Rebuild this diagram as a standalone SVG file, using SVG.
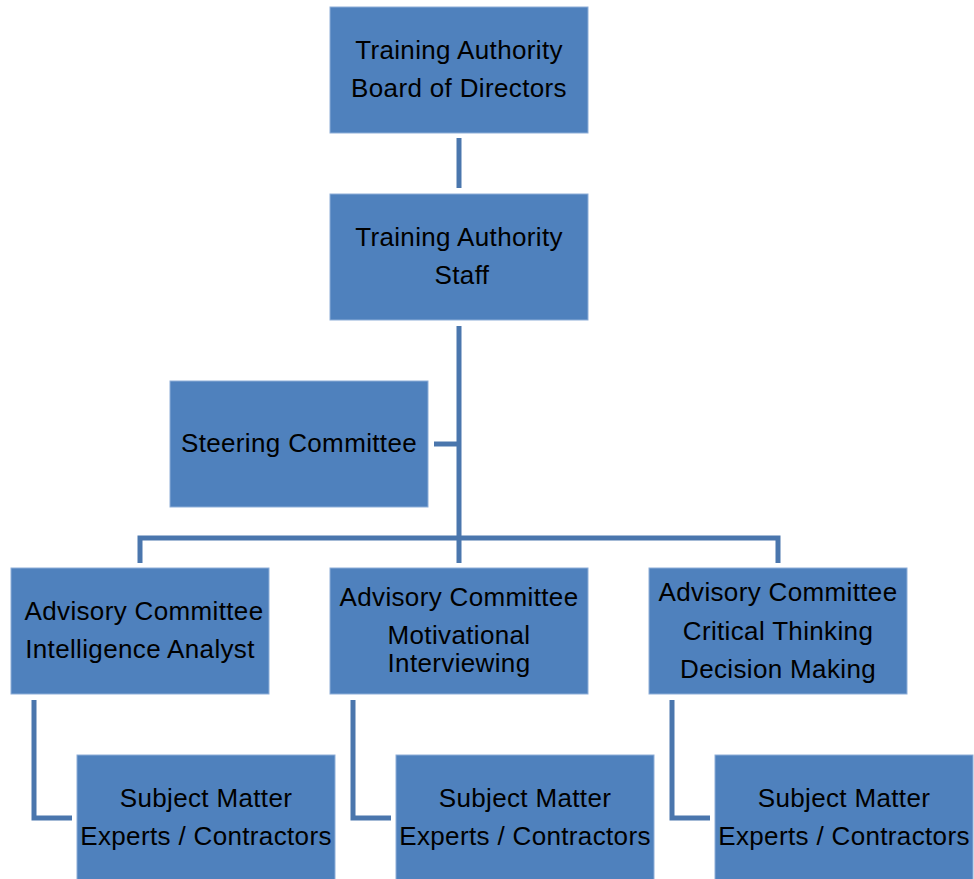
<svg xmlns="http://www.w3.org/2000/svg" width="974" height="879" viewBox="0 0 974 879">
<style>
.box{fill:#4F81BD;stroke:#8EAED8;stroke-width:1}
.t{font-family:"Liberation Sans",Arial,sans-serif;font-size:26px;letter-spacing:0.35px;fill:#000;text-anchor:middle}
.c{fill:none;stroke:#4A76AD;stroke-width:5}
</style>
<rect width="974" height="879" fill="#fff"/>
<g id="connectors">
<line class="c" x1="459" y1="138" x2="459" y2="188"/>
<line class="c" x1="459" y1="326" x2="459" y2="563"/>
<line class="c" x1="434" y1="444" x2="459" y2="444"/>
<polyline class="c" points="140,563 140,538 778,538 778,563"/>
<polyline class="c" points="34,700 34,818 72,818"/>
<polyline class="c" points="353,700 353,818 391,818"/>
<polyline class="c" points="672,700 672,818 710,818"/>
</g>
<g id="board"><rect class="box" x="330" y="7" width="258" height="126"/><text class="t" x="459" y="59">Training Authority</text><text class="t" x="459" y="97">Board of Directors</text></g>
<g id="staff"><rect class="box" x="330" y="194" width="258" height="126"/><text class="t" x="459" y="246">Training Authority</text><text class="t" x="462" y="284">Staff</text></g>
<g id="steering"><rect class="box" x="170" y="381" width="258" height="126"/><text class="t" x="299" y="452">Steering Committee</text></g>
<g id="adv1"><rect class="box" x="11" y="568" width="258" height="126"/><text class="t" x="144" y="620">Advisory Committee</text><text class="t" x="140" y="658">Intelligence Analyst</text></g>
<g id="adv2"><rect class="box" x="330" y="568" width="258" height="126"/><text class="t" x="459" y="606">Advisory Committee</text><text class="t" x="459" y="644">Motivational</text><text class="t" x="459" y="672">Interviewing</text></g>
<g id="adv3"><rect class="box" x="649" y="568" width="258" height="126"/><text class="t" x="778" y="601">Advisory Committee</text><text class="t" x="778" y="640">Critical Thinking</text><text class="t" x="778" y="678">Decision Making</text></g>
<g id="sme1"><rect class="box" x="77" y="755" width="258" height="130"/><text class="t" x="206" y="807">Subject Matter</text><text class="t" x="206" y="845">Experts / Contractors</text></g>
<g id="sme2"><rect class="box" x="396" y="755" width="258" height="130"/><text class="t" x="525" y="807">Subject Matter</text><text class="t" x="525" y="845">Experts / Contractors</text></g>
<g id="sme3"><rect class="box" x="715" y="755" width="258" height="130"/><text class="t" x="844" y="807">Subject Matter</text><text class="t" x="844" y="845">Experts / Contractors</text></g>
</svg>
